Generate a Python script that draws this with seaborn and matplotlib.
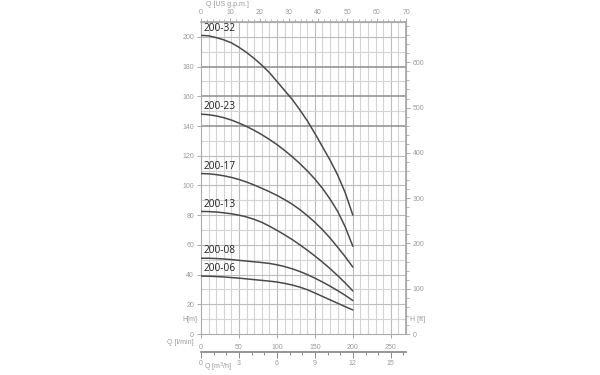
import pandas as pd
import matplotlib
matplotlib.use('Agg')
import matplotlib.pyplot as plt
import seaborn as sns
from matplotlib.ticker import MultipleLocator

# flow points in l/min and head in m for each pump model
flow_lpm = [0, 10, 20, 30, 40, 50, 60, 70, 80, 90, 100,
            110, 120, 130, 140, 150, 160, 170, 180, 190, 200]
pump_models = ['200-32', '200-23', '200-17', '200-13', '200-08', '200-06']
head_200_32 = [201, 200.7, 199.5, 198, 196, 193, 189.5, 185.5, 181, 176, 170,
               164, 158, 151, 143.5, 135, 126, 117, 107, 95, 80]
head_200_23 = [148, 147.6, 146.8, 145.6, 144, 142, 139.7, 137.1, 134.2, 131, 127.5,
               123.6, 119.4, 114.8, 109.8, 104.3, 98, 90.8, 82.5, 72, 59]
head_200_17 = [108, 107.8, 107.3, 106.5, 105.4, 104, 102.3, 100.3, 98.1, 95.8, 93.3,
               90.5, 87.4, 83.8, 79.7, 75.2, 70.2, 64.6, 58.4, 52, 45]
head_200_13 = [82.5, 82.4, 82.1, 81.6, 80.9, 80, 78.8, 77.2, 75.2, 72.6, 69.8,
               66.8, 63.6, 60.1, 56.4, 52.5, 48.4, 44, 39.3, 34.3, 29]
head_200_08 = [51, 51, 50.8, 50.5, 50.1, 49.6, 49.1, 48.6, 48.1, 47.5, 46.6,
               45.4, 43.9, 42.1, 40, 37.6, 35, 32.2, 29.2, 26, 22.5]
head_200_06 = [39, 38.9, 38.7, 38.4, 38, 37.6, 37.1, 36.6, 36.1, 35.6, 35,
               34.1, 33, 31.6, 29.8, 27.6, 25.3, 23, 20.7, 18.4, 16.2]

heads = [head_200_32, head_200_23, head_200_17, head_200_13, head_200_08, head_200_06]

rows = []
for model, h in zip(pump_models, heads):
    for q, v in zip(flow_lpm, h):
        rows.append({'model': model, 'Q': q, 'H': v})
df = pd.DataFrame(rows)

sns.set_theme(style='white')
plt.rcParams['font.family'] = ['Liberation Sans', 'DejaVu Sans']

tick_col = '#9a9a9a'
grid_light = '#d4d4d4'
grid_mid = '#bcbcbc'
grid_dark = '#8c8c8c'

fig = plt.figure(figsize=(6, 3.75), dpi=100)
ax = fig.add_axes([0.335, 0.1093, 0.3417, 0.832])

x_max = 270
y_max = 210
ax.set_xlim(0, x_max)
ax.set_ylim(0, y_max)

# grid
for q in range(10, x_max, 10):
    ax.axvline(q, color=grid_mid if q % 50 == 0 else grid_light, lw=0.8, zorder=0)
for h in range(10, y_max + 1, 10):
    if h in (140, 160, 180):
        c, w = grid_dark, 1.1
    elif h % 20 == 0:
        c, w = grid_mid, 0.8
    else:
        c, w = grid_light, 0.8
    ax.axhline(h, color=c, lw=w, zorder=0)

sns.lineplot(data=df, x='Q', y='H', hue='model', palette=['#4a4a4a'] * len(pump_models),
             legend=False, ax=ax, lw=1.1, zorder=3)

for model, h in zip(pump_models, heads):
    ax.text(4, h[0] + 1.2, model, fontsize=7.3, family='Open Sans', color='#222222',
            ha='left', va='bottom', zorder=4)

for side in ['left', 'right', 'top', 'bottom']:
    ax.spines[side].set_color('#aaaaaa')
    ax.spines[side].set_linewidth(0.8)

ax.set_xlabel('')
ax.set_ylabel('')
ax.xaxis.set_major_locator(MultipleLocator(50))
ax.yaxis.set_major_locator(MultipleLocator(20))
ax.tick_params(axis='both', which='major', length=3, width=0.7, color='#aaaaaa',
               labelsize=5, labelcolor=tick_col, pad=2, bottom=True, left=True)
ax.tick_params(axis='x', pad=4)

# top axis: US g.p.m.
gpm_f = x_max / 70.0
top = ax.secondary_xaxis('top', functions=(lambda x: x / gpm_f, lambda x: x * gpm_f))
top.set_xticks([0, 10, 20, 30, 40, 50, 60, 70])
top.xaxis.set_minor_locator(MultipleLocator(2))
top.tick_params(which='major', length=3, width=0.7, color='#aaaaaa', labelsize=5,
                labelcolor=tick_col, pad=1)
top.tick_params(which='minor', length=2, width=0.6, color='#aaaaaa')
top.spines['top'].set_color('#aaaaaa')

# right axis: feet
right = ax.secondary_yaxis('right', functions=(lambda m: m * 3.281, lambda f: f / 3.281))
right.set_yticks([0, 100, 200, 300, 400, 500, 600])
right.yaxis.set_minor_locator(MultipleLocator(20))
right.tick_params(which='major', length=3, width=0.7, color='#aaaaaa', labelsize=5,
                  labelcolor=tick_col, pad=2)
right.tick_params(which='minor', length=2, width=0.6, color='#aaaaaa')
right.spines['right'].set_color('#aaaaaa')

# lower axis: m3/h
m3h_f = 1000 / 60.0
low = ax.secondary_xaxis(-0.058, functions=(lambda x: x / m3h_f, lambda x: x * m3h_f))
low.set_xticks([0, 3, 6, 9, 12, 15])
low.xaxis.set_minor_locator(MultipleLocator(1))
low.tick_params(which='major', length=4, width=0.7, color='#888888', labelsize=5,
                labelcolor=tick_col, pad=2)
low.tick_params(which='minor', length=2.5, width=0.7, color='#888888')
low.spines['bottom'].set_color('#888888')

# axis captions
ax.text(-0.02, 10, 'H[m]', transform=ax.get_yaxis_transform(), fontsize=5,
        color=tick_col, ha='right', va='center')
ax.text(1.02, 10, 'H [ft]', transform=ax.get_yaxis_transform(), fontsize=5,
        color=tick_col, ha='left', va='center')
ax.text(-0.035, -0.026, 'Q [l/min]', transform=ax.transAxes, fontsize=5,
        color=tick_col, ha='right', va='center')
ax.text(0.085, -0.107, 'Q [m$^3$/h]', transform=ax.transAxes, fontsize=5,
        color=tick_col, ha='center', va='center')
ax.text(0.13, 1.055, 'Q [US g.p.m.]', transform=ax.transAxes, fontsize=5,
        color=tick_col, ha='center', va='center')

fig.savefig('out.png', dpi=100, facecolor='white')
